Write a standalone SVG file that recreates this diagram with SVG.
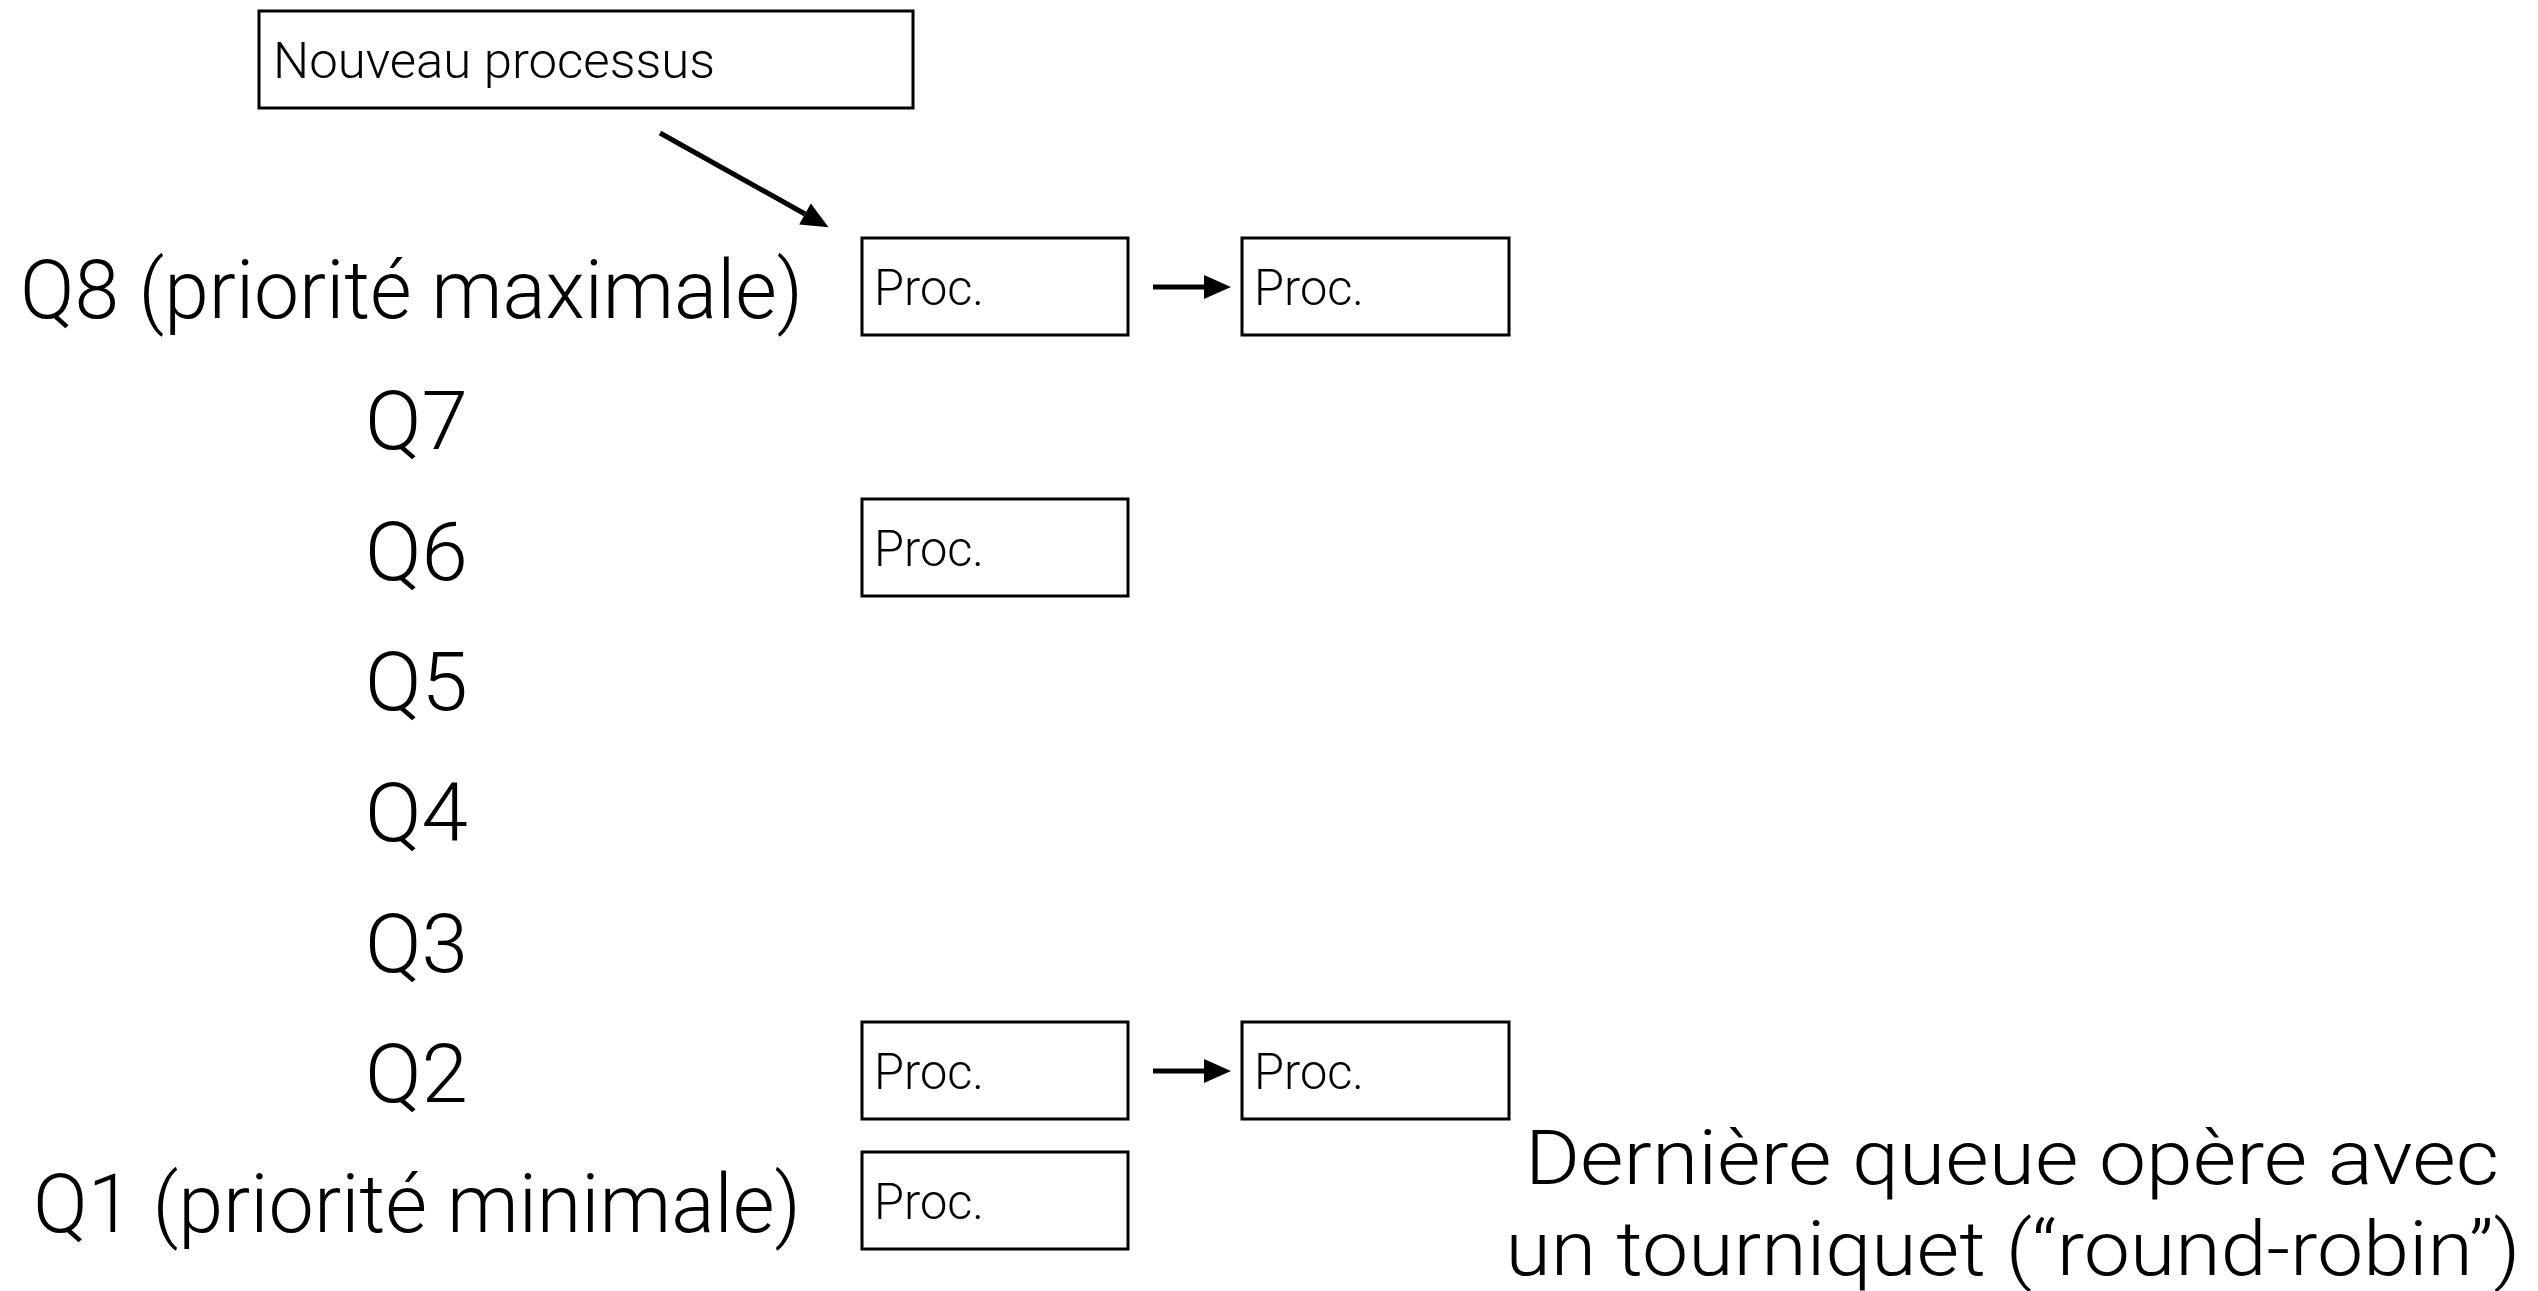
<svg xmlns="http://www.w3.org/2000/svg" width="2538" height="1291" viewBox="0 0 2538 1291">
<style>
  text { font-family: "Helvetica Neue", Roboto, "Liberation Sans", sans-serif; font-weight: 300; fill: #000; }
  .q { font-size: 82px; }
  .proc { font-size: 50px; }
  .note { font-size: 76px; text-anchor: middle; }
  .box { fill: #fff; stroke: #000; stroke-width: 3; }
  .conn { stroke: #000; stroke-width: 5; fill: none; }
</style>
<defs>
  <marker id="ah" markerUnits="userSpaceOnUse" markerWidth="30" markerHeight="26" refX="0" refY="12" orient="auto" overflow="visible">
    <path d="M0,0 L27,12 L0,24 Z" fill="#000"/>
  </marker>
</defs>
<rect width="2538" height="1291" fill="#fff"/>

<g id="new-process">
  <rect class="box" x="259" y="11" width="654" height="97"/>
  <text class="proc" x="273" y="78" textLength="442" lengthAdjust="spacingAndGlyphs">Nouveau processus</text>
</g>

<g id="labels">
  <text id="q8" class="q" x="20" y="318" textLength="783" lengthAdjust="spacingAndGlyphs">Q8 (priorité maximale)</text>
  <text id="q7" class="q" x="365" y="449" textLength="103" lengthAdjust="spacingAndGlyphs">Q7</text>
  <text id="q6" class="q" x="365" y="580" textLength="103" lengthAdjust="spacingAndGlyphs">Q6</text>
  <text id="q5" class="q" x="365" y="710" textLength="103" lengthAdjust="spacingAndGlyphs">Q5</text>
  <text id="q4" class="q" x="365" y="841" textLength="103" lengthAdjust="spacingAndGlyphs">Q4</text>
  <text id="q3" class="q" x="365" y="972" textLength="103" lengthAdjust="spacingAndGlyphs">Q3</text>
  <text id="q2" class="q" x="365" y="1102" textLength="103" lengthAdjust="spacingAndGlyphs">Q2</text>
  <text id="q1" class="q" x="33" y="1232" textLength="768" lengthAdjust="spacingAndGlyphs">Q1 (priorité minimale)</text>
</g>

<g id="q8-proc1">
  <rect class="box" x="862" y="238" width="266" height="97"/>
  <text class="proc" x="874" y="305" textLength="110" lengthAdjust="spacingAndGlyphs">Proc.</text>
</g>
<g id="q8-proc2">
  <rect class="box" x="1242" y="238" width="267" height="97"/>
  <text class="proc" x="1254" y="305" textLength="110" lengthAdjust="spacingAndGlyphs">Proc.</text>
</g>
<g id="q6-proc1">
  <rect class="box" x="862" y="499" width="266" height="97"/>
  <text class="proc" x="874" y="566" textLength="110" lengthAdjust="spacingAndGlyphs">Proc.</text>
</g>
<g id="q2-proc1">
  <rect class="box" x="862" y="1022" width="266" height="97"/>
  <text class="proc" x="874" y="1089" textLength="110" lengthAdjust="spacingAndGlyphs">Proc.</text>
</g>
<g id="q2-proc2">
  <rect class="box" x="1242" y="1022" width="267" height="97"/>
  <text class="proc" x="1254" y="1089" textLength="110" lengthAdjust="spacingAndGlyphs">Proc.</text>
</g>
<g id="q1-proc1">
  <rect class="box" x="862" y="1152" width="266" height="97"/>
  <text class="proc" x="874" y="1219" textLength="110" lengthAdjust="spacingAndGlyphs">Proc.</text>
</g>

<g id="connectors">
  <line class="conn" x1="660" y1="133" x2="805" y2="214" marker-end="url(#ah)"/>
  <line class="conn" x1="1153" y1="287" x2="1204" y2="287" marker-end="url(#ah)"/>
  <line class="conn" x1="1153" y1="1071" x2="1204" y2="1071" marker-end="url(#ah)"/>
</g>

<g id="note">
  <text class="note" x="2012" y="1184" textLength="974" lengthAdjust="spacingAndGlyphs">Dernière queue opère avec</text>
  <text class="note" x="2013" y="1275" textLength="1015" lengthAdjust="spacingAndGlyphs">un tourniquet (“round-robin”)</text>
</g>
</svg>
